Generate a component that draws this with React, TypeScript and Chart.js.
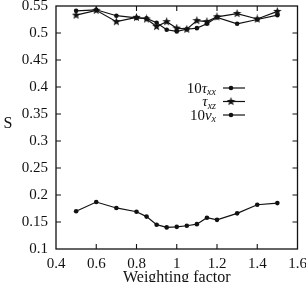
import React, { useEffect, useRef } from "react";
import { Chart, registerables } from "chart.js";

Chart.register(...registerables);

const weights = [0.5, 0.6, 0.7, 0.8, 0.85, 0.9, 0.95, 1.0, 1.05, 1.1, 1.15, 1.2, 1.3, 1.4, 1.5];
const tauXX10 = [0.541, 0.543, 0.532, 0.528, 0.527, 0.519, 0.506, 0.503, 0.507, 0.509, 0.517, 0.529, 0.517, 0.525, 0.533];
const tauXZ = [0.533, 0.542, 0.521, 0.529, 0.526, 0.512, 0.521, 0.509, 0.507, 0.523, 0.521, 0.530, 0.536, 0.526, 0.540];
const vX10 = [0.170, 0.187, 0.176, 0.169, 0.160, 0.145, 0.140, 0.141, 0.143, 0.146, 0.158, 0.154, 0.166, 0.182, 0.185];

const xTicks = [0.4, 0.6, 0.8, 1.0, 1.2, 1.4, 1.6];
const yTicks = [0.1, 0.15, 0.2, 0.25, 0.3, 0.35, 0.4, 0.45, 0.5, 0.55];

const legendItems = [
  { main: "10", greek: "τ", sub: "xx", marker: "dot" },
  { main: "", greek: "τ", sub: "xz", marker: "star" },
  { main: "10", greek: "v", sub: "x", marker: "dot" },
];

const INK = "#111";
const SERIF = "'Liberation Serif', 'DejaVu Serif', serif";

function makeStar(size: number): HTMLCanvasElement {
  const c = document.createElement("canvas");
  c.width = size;
  c.height = size;
  const ctx = c.getContext("2d")!;
  const cx = size / 2, cy = size / 2;
  const R = size / 2, r = R * 0.42;
  ctx.beginPath();
  for (let i = 0; i < 10; i++) {
    const ang = -Math.PI / 2 + (i * Math.PI) / 5;
    const rad = i % 2 === 0 ? R : r;
    const px = cx + rad * Math.cos(ang);
    const py = cy + rad * Math.sin(ang);
    if (i === 0) ctx.moveTo(px, py);
    else ctx.lineTo(px, py);
  }
  ctx.closePath();
  ctx.fillStyle = INK;
  ctx.fill();
  return c;
}

const fmt = (v: number) => String(Number(v.toFixed(2)));

export default function App() {
  const ref = useRef<HTMLCanvasElement | null>(null);

  useEffect(() => {
    if (!ref.current) return;
    const star = makeStar(9);

    const framePlugin = {
      id: "frame",
      afterDraw(chart: any) {
        const { ctx, chartArea } = chart;
        const { left, right, top, bottom } = chartArea;
        const xs = chart.scales.x;
        const ys = chart.scales.y;
        ctx.save();
        ctx.strokeStyle = INK;
        ctx.lineWidth = 1.3;
        ctx.strokeRect(left, top, right - left, bottom - top);
        const L = 5;
        ctx.lineWidth = 1.1;
        ctx.beginPath();
        xTicks.slice(1, -1).forEach((t) => {
          const px = xs.getPixelForValue(t);
          ctx.moveTo(px, bottom);
          ctx.lineTo(px, bottom - L);
          ctx.moveTo(px, top);
          ctx.lineTo(px, top + L);
        });
        yTicks.slice(1, -1).forEach((t) => {
          const py = ys.getPixelForValue(t);
          ctx.moveTo(left, py);
          ctx.lineTo(left + L, py);
          ctx.moveTo(right, py);
          ctx.lineTo(right - L, py);
        });
        ctx.stroke();

        // axis titles
        ctx.fillStyle = INK;
        ctx.font = `16px ${SERIF}`;
        ctx.textAlign = "center";
        ctx.textBaseline = "alphabetic";
        ctx.fillText("Weighting factor", (left + right) / 2, 282);
        ctx.fillText("S", 8, 128);

        // legend
        const textRight = 216;
        const lineX0 = 223, lineX1 = 245, markX = 231;
        const rowsY = [88, 101.5, 115];
        legendItems.forEach((it, i) => {
          const cy = rowsY[i];
          const base = cy + 4.5;
          ctx.font = `italic 10px ${SERIF}`;
          const wSub = ctx.measureText(it.sub).width;
          ctx.font = `italic 15px ${SERIF}`;
          const wG = ctx.measureText(it.greek).width;
          ctx.font = `15px ${SERIF}`;
          const wM = ctx.measureText(it.main).width;
          let x = textRight - wSub - wG - wM;
          ctx.textAlign = "left";
          ctx.fillText(it.main, x, base);
          x += wM;
          ctx.font = `italic 15px ${SERIF}`;
          ctx.fillText(it.greek, x, base);
          x += wG;
          ctx.font = `italic 10px ${SERIF}`;
          ctx.fillText(it.sub, x, base + 2.5);

          ctx.beginPath();
          ctx.lineWidth = 1.2;
          ctx.moveTo(lineX0, cy);
          ctx.lineTo(lineX1, cy);
          ctx.stroke();
          if (it.marker === "dot") {
            ctx.beginPath();
            ctx.arc(markX, cy, 2.3, 0, Math.PI * 2);
            ctx.fill();
          } else {
            ctx.drawImage(star, markX - star.width / 2, cy - star.height / 2);
          }
        });
        ctx.restore();
      },
    };

    const mk = (label: string, ys: number[], style: any, radius: number) => ({
      label,
      data: weights.map((w, i) => ({ x: w, y: ys[i] })),
      borderColor: INK,
      backgroundColor: INK,
      borderWidth: 1.2,
      pointStyle: style,
      pointRadius: radius,
      pointBorderWidth: 0,
      pointBackgroundColor: INK,
      showLine: true,
      tension: 0,
    });

    const chart = new Chart(ref.current, {
      type: "scatter",
      data: {
        datasets: [
          mk("10τxx", tauXX10, "circle", 2.3),
          mk("τxz", tauXZ, star, 4.5),
          mk("10vx", vX10, "circle", 2.3),
        ],
      },
      options: {
        animation: false,
        responsive: false,
        devicePixelRatio: 1,
        layout: { padding: { left: 0, top: 6, right: 22.5, bottom: 21 } },
        plugins: { legend: { display: false }, tooltip: { enabled: false } },
        scales: {
          x: {
            type: "linear",
            min: 0.4,
            max: 1.6,
            grid: { display: false, drawTicks: false },
            border: { display: false },
            afterBuildTicks: (s: any) => {
              s.ticks = xTicks.map((v) => ({ value: v }));
            },
            afterFit: (s: any) => {
              s.height = 30;
              s.paddingLeft = 0;
              s.paddingRight = 0;
            },
            ticks: {
              color: INK,
              font: { family: SERIF, size: 15 },
              padding: 6,
              maxRotation: 0,
              autoSkip: false,
              callback: (v: any) => fmt(Number(v)),
            },
          },
          y: {
            type: "linear",
            min: 0.1,
            max: 0.55,
            grid: { display: false, drawTicks: false },
            border: { display: false },
            afterBuildTicks: (s: any) => {
              s.ticks = yTicks.map((v) => ({ value: v }));
            },
            afterFit: (s: any) => {
              s.width = 56;
              s.paddingTop = 0;
              s.paddingBottom = 0;
            },
            ticks: {
              color: INK,
              font: { family: SERIF, size: 15 },
              padding: 8,
              autoSkip: false,
              callback: (v: any) => fmt(Number(v)),
            },
          },
        },
      },
      plugins: [framePlugin],
    } as any);

    return () => chart.destroy();
  }, []);

  return (
    <div
      style={{
        position: "fixed",
        left: 0,
        top: 0,
        width: 306,
        height: 282,
        overflow: "hidden",
        background: "#fff",
      }}
    >
      <canvas ref={ref} width={320} height={300} style={{ width: 320, height: 300, display: "block" }} />
    </div>
  );
}
